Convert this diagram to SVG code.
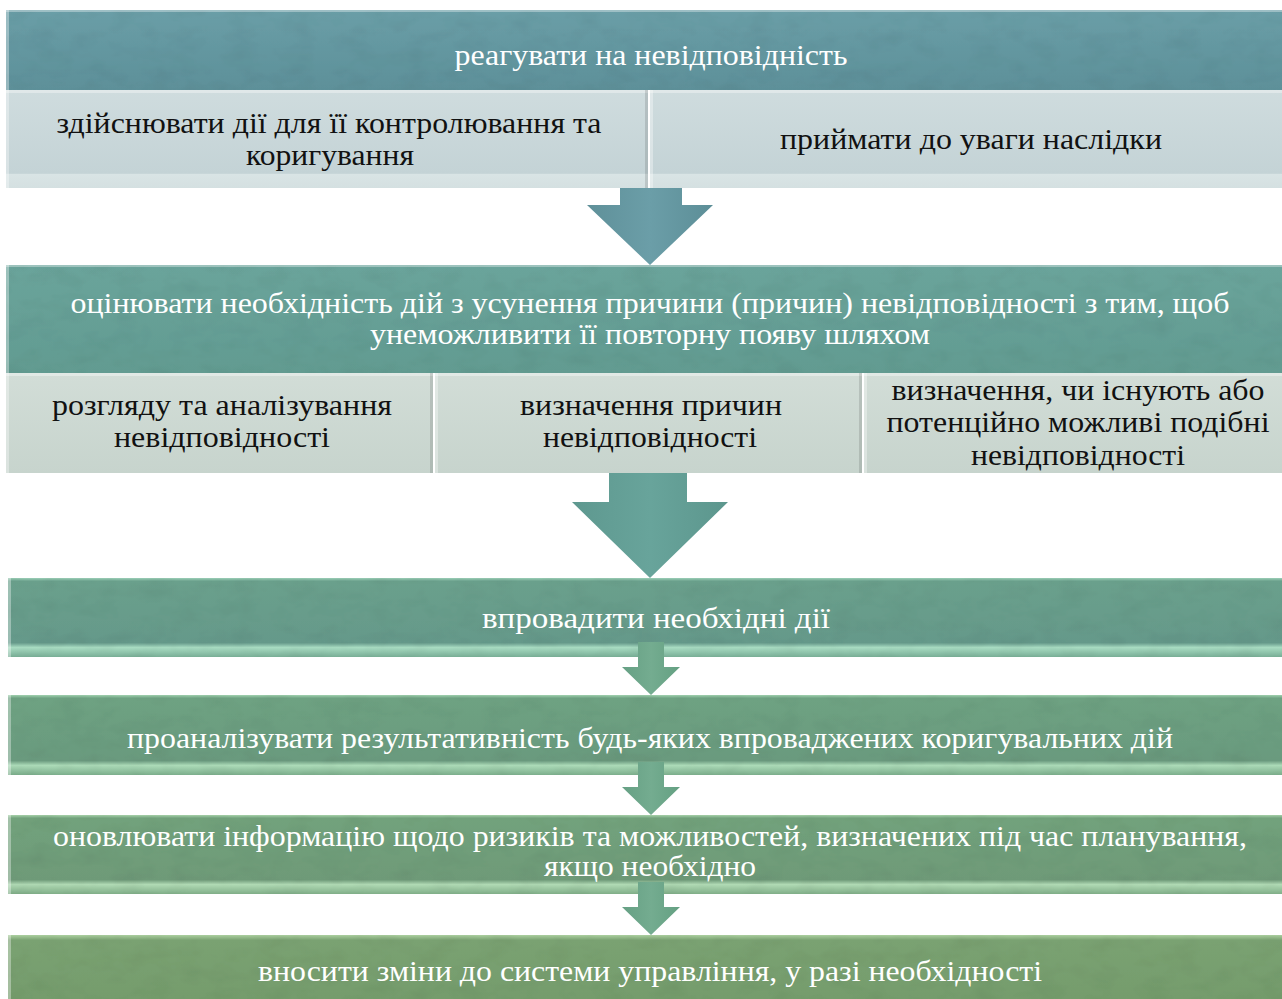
<svg xmlns="http://www.w3.org/2000/svg" width="1282" height="999" viewBox="0 0 1282 999">
<defs>
<style>
.w{font-family:"Liberation Serif","Times New Roman",serif;font-size:29px;fill:#ffffff;text-anchor:middle}
.b{font-family:"Liberation Serif","Times New Roman",serif;font-size:29px;fill:#111111;text-anchor:middle}
.hl{fill:#ffffff;opacity:0.35}
.sh{fill:#000000;opacity:0.12}
</style>
<filter id="tex" x="0" y="0" width="100%" height="100%">
<feTurbulence type="fractalNoise" baseFrequency="0.035 0.06" numOctaves="3" seed="4" result="n"/>
<feColorMatrix in="n" type="matrix" values="0 0 0 0 0  0 0 0 0 0  0 0 0 0 0  0 0 0 -1.6 0.95" result="m"/>
<feComposite in="m" in2="SourceGraphic" operator="in" result="c"/>
<feComponentTransfer in="c" result="d"><feFuncA type="linear" slope="0.12"/></feComponentTransfer>
<feMerge><feMergeNode in="SourceGraphic"/><feMergeNode in="d"/></feMerge>
</filter>
<linearGradient id="g1" x1="0" y1="0" x2="0" y2="1"><stop offset="0" stop-color="#6a9ea7"/><stop offset="1" stop-color="#5d9099"/></linearGradient>
<linearGradient id="gs1" x1="0" y1="0" x2="0" y2="1"><stop offset="0" stop-color="#cfdcde"/><stop offset="0.85" stop-color="#c4d3d6"/><stop offset="0.86" stop-color="#d9e4e5"/><stop offset="1" stop-color="#d4e0e1"/></linearGradient>
<linearGradient id="g2" x1="0" y1="0" x2="0" y2="1"><stop offset="0" stop-color="#6aa49b"/><stop offset="1" stop-color="#629b91"/></linearGradient>
<linearGradient id="gs2" x1="0" y1="0" x2="0" y2="1"><stop offset="0" stop-color="#d2ddd7"/><stop offset="1" stop-color="#c7d4cd"/></linearGradient>
<linearGradient id="g3" x1="0" y1="0" x2="0" y2="1"><stop offset="0" stop-color="#9cd0b8"/><stop offset="0.04" stop-color="#6aa08c"/><stop offset="0.82" stop-color="#65998a"/><stop offset="0.88" stop-color="#a8dcc2"/><stop offset="1" stop-color="#78ae96"/></linearGradient>
<linearGradient id="g4" x1="0" y1="0" x2="0" y2="1"><stop offset="0" stop-color="#a2d2b0"/><stop offset="0.04" stop-color="#6ea282"/><stop offset="0.82" stop-color="#6a9a7e"/><stop offset="0.88" stop-color="#acdbb8"/><stop offset="1" stop-color="#7cae8c"/></linearGradient>
<linearGradient id="g5" x1="0" y1="0" x2="0" y2="1"><stop offset="0" stop-color="#a8d2aa"/><stop offset="0.04" stop-color="#72a27c"/><stop offset="0.82" stop-color="#6e9a78"/><stop offset="0.88" stop-color="#b0dab4"/><stop offset="1" stop-color="#80ae88"/></linearGradient>
<linearGradient id="g6" x1="0" y1="0" x2="0" y2="1"><stop offset="0" stop-color="#acd0a0"/><stop offset="0.08" stop-color="#7aa272"/><stop offset="1" stop-color="#759c6c"/></linearGradient>
<linearGradient id="ga1" x1="0" y1="0" x2="1" y2="0"><stop offset="0" stop-color="#5f9099"/><stop offset="0.5" stop-color="#6b9ea8"/><stop offset="1" stop-color="#5c8e97"/></linearGradient>
<linearGradient id="ga2" x1="0" y1="0" x2="1" y2="0"><stop offset="0" stop-color="#5e988f"/><stop offset="0.5" stop-color="#68a49b"/><stop offset="1" stop-color="#5c968d"/></linearGradient>
<linearGradient id="ga3" x1="0" y1="0" x2="1" y2="0"><stop offset="0" stop-color="#66a084"/><stop offset="0.5" stop-color="#74ac90"/><stop offset="1" stop-color="#64a082"/></linearGradient>
</defs>
<rect width="1282" height="999" fill="#ffffff"/>

<g id="node-react">
<rect x="6" y="10" width="1276" height="80" fill="url(#g1)" filter="url(#tex)"/>
<rect x="6" y="10" width="1276" height="2" class="hl"/>
<rect x="6" y="10" width="3" height="80" class="hl"/>
<text class="w" x="651" y="65" textLength="393" lengthAdjust="spacingAndGlyphs">реагувати на невідповідність</text>
</g>
<g id="node-control">
<rect x="6" y="90" width="642" height="98" fill="url(#gs1)"/>
<rect x="6" y="90" width="642" height="3" class="hl"/>
<rect x="6" y="90" width="3" height="98" class="hl"/>
<rect x="645" y="90" width="3" height="98" class="sh"/>
<text class="b" x="329" y="133" textLength="545" lengthAdjust="spacingAndGlyphs">здійснювати дії для її контролювання та</text>
<text class="b" x="330" y="165" textLength="168" lengthAdjust="spacingAndGlyphs">коригування</text>
</g>
<g id="node-consequences">
<rect x="650" y="90" width="632" height="98" fill="url(#gs1)"/>
<rect x="650" y="90" width="632" height="3" class="hl"/>
<rect x="650" y="90" width="3" height="98" class="hl"/>
<text class="b" x="971" y="149" textLength="382" lengthAdjust="spacingAndGlyphs">приймати до уваги наслідки</text>
</g>

<g id="node-evaluate">
<rect x="6" y="265" width="1276" height="108" fill="url(#g2)" filter="url(#tex)"/>
<rect x="6" y="265" width="1276" height="2" class="hl"/>
<rect x="6" y="265" width="3" height="108" class="hl"/>
<text class="w" x="650" y="313" textLength="1159" lengthAdjust="spacingAndGlyphs">оцінювати необхідність дій з усунення причини (причин) невідповідності з тим, щоб</text>
<text class="w" x="650" y="344" textLength="560" lengthAdjust="spacingAndGlyphs">унеможливити її повторну появу шляхом</text>
</g>
<g id="node-review">
<rect x="6" y="373" width="427" height="100" fill="url(#gs2)"/>
<rect x="6" y="373" width="427" height="3" class="hl"/>
<rect x="6" y="373" width="3" height="100" class="hl"/>
<rect x="430" y="373" width="3" height="100" class="sh"/>
<text class="b" x="222" y="415" textLength="340" lengthAdjust="spacingAndGlyphs">розгляду та аналізування</text>
<text class="b" x="222" y="447" textLength="216" lengthAdjust="spacingAndGlyphs">невідповідності</text>
</g>
<g id="node-causes">
<rect x="435" y="373" width="427" height="100" fill="url(#gs2)"/>
<rect x="435" y="373" width="427" height="3" class="hl"/>
<rect x="435" y="373" width="3" height="100" class="hl"/>
<rect x="859" y="373" width="3" height="100" class="sh"/>
<text class="b" x="651" y="415" textLength="262" lengthAdjust="spacingAndGlyphs">визначення причин</text>
<text class="b" x="650" y="447" textLength="214" lengthAdjust="spacingAndGlyphs">невідповідності</text>
</g>
<g id="node-similar">
<rect x="864" y="373" width="418" height="100" fill="url(#gs2)"/>
<rect x="864" y="373" width="418" height="3" class="hl"/>
<rect x="864" y="373" width="3" height="100" class="hl"/>
<text class="b" x="1078" y="400" textLength="373" lengthAdjust="spacingAndGlyphs">визначення, чи існують або</text>
<text class="b" x="1078" y="432" textLength="383" lengthAdjust="spacingAndGlyphs">потенційно можливі подібні</text>
<text class="b" x="1078" y="465" textLength="214" lengthAdjust="spacingAndGlyphs">невідповідності</text>
</g>

<g id="node-implement">
<rect x="8" y="578" width="1274" height="79" fill="url(#g3)" filter="url(#tex)"/>
<rect x="8" y="578" width="3" height="79" class="hl"/>
<text class="w" x="656" y="628" textLength="348" lengthAdjust="spacingAndGlyphs">впровадити необхідні дії</text>
</g>
<g id="node-analyse">
<rect x="8" y="695" width="1274" height="80" fill="url(#g4)" filter="url(#tex)"/>
<rect x="8" y="695" width="3" height="80" class="hl"/>
<text class="w" x="650" y="748" textLength="1046" lengthAdjust="spacingAndGlyphs">проаналізувати результативність будь-яких впроваджених коригувальних дій</text>
</g>
<g id="node-update">
<rect x="8" y="815" width="1274" height="79" fill="url(#g5)" filter="url(#tex)"/>
<rect x="8" y="815" width="3" height="79" class="hl"/>
<text class="w" x="650" y="846" textLength="1194" lengthAdjust="spacingAndGlyphs">оновлювати інформацію щодо ризиків та можливостей, визначених під час планування,</text>
<text class="w" x="650" y="876" textLength="212" lengthAdjust="spacingAndGlyphs">якщо необхідно</text>
</g>
<g id="node-change">
<rect x="8" y="935" width="1274" height="64" fill="url(#g6)" filter="url(#tex)"/>
<rect x="8" y="935" width="3" height="64" class="hl"/>
<text class="w" x="650" y="981" textLength="784" lengthAdjust="spacingAndGlyphs">вносити зміни до системи управління, у разі необхідності</text>
</g>

<g id="connectors">
<polygon points="620,188 682,188 682,205 713,205 650,265 587,205 620,205" fill="url(#ga1)"/>
<polygon points="609,473 687,473 687,502 728,502 650,578 572,502 609,502" fill="url(#ga2)"/>
<polygon points="638,642 664,642 664,667 680,667 651,695 622,667 638,667" fill="url(#ga3)"/>
<polygon points="638,762 664,762 664,787 680,787 651,815 622,787 638,787" fill="url(#ga3)"/>
<polygon points="638,882 664,882 664,907 680,907 651,935 622,907 638,907" fill="url(#ga3)"/>
</g>
</svg>
